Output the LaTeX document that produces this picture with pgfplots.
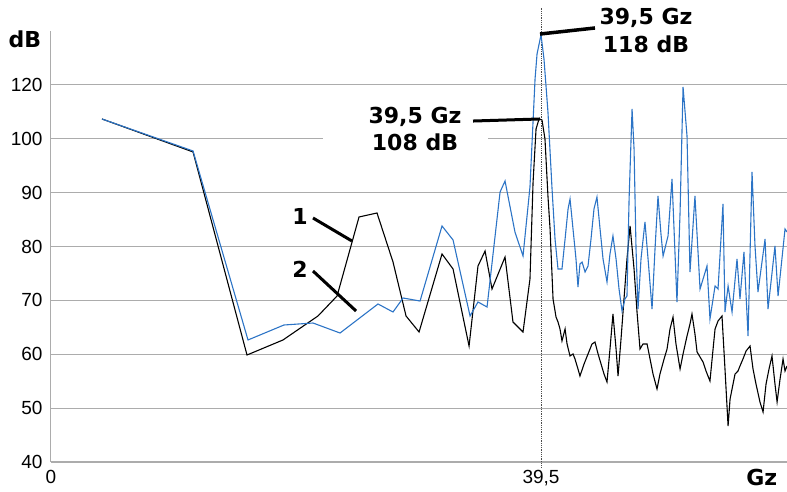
\documentclass[border=0pt]{standalone}
\usepackage{fontspec}
\setmainfont{Liberation Sans}
\newfontfamily\ann{DejaVu Sans}
\usepackage{pgfplots}
\pgfplotsset{compat=1.18}
\definecolor{sblue}{RGB}{44,116,198}
\begin{document}
\begin{tikzpicture}
\useasboundingbox (-51pt,-30pt) rectangle (736pt,462pt);
\begin{axis}[at={(0,0)}, anchor=south west, scale only axis,
  width=736pt, height=431pt,
  xmin=0, xmax=59.33, ymin=40, ymax=120,
  axis lines*=left,
  axis line style={draw=gray!65, line width=1pt},
  ytick={40,50,...,110}, yticklabels={40,50,60,70,80,90,100,120},
  xtick={0,39.5}, xticklabels={0,{39,5}},
  major tick length=0pt,
  ymajorgrids, grid style={gray!65, line width=1.1pt},
  tick label style={font=\fontsize{19}{19}\selectfont},
  yticklabel style={xshift=-5pt},
  xticklabel style={yshift=-5pt},
  /pgf/number format/assume math mode=true,
  clip=false]
\fill[white] (axis cs:21.93,97) rectangle (axis cs:35.23,105);
\fill[white] (axis cs:39.65,118.6) rectangle (axis cs:56.6,121);
\draw[densely dotted, gray!60!black, line width=0.8pt] (axis cs:39.5,39.0) -- (axis cs:39.5,124.5);
\addplot[black, line width=1.1pt] table {
x y
4.11 103.67
11.45 97.55
15.80 59.86
18.70 62.65
21.52 67.10
23.06 70.81
24.83 85.48
26.28 86.22
27.57 77.12
28.62 67.10
29.67 64.13
31.52 78.61
32.41 75.82
33.70 61.53
34.42 76.38
34.99 79.16
35.55 72.11
36.60 78.05
37.24 65.99
38.05 64.13
38.61 73.97
38.86 91.97
39.10 101.81
39.34 103.67
39.58 103.48
39.82 99.95
40.06 89.37
40.23 83.25
40.47 70.26
40.71 66.91
40.87 65.99
41.03 64.69
41.19 62.46
41.44 64.69
41.60 61.90
41.84 59.68
42.08 60.05
42.24 59.12
42.48 57.26
42.64 55.96
42.97 58.19
43.29 60.05
43.61 61.90
43.85 62.27
44.10 60.05
44.34 58.19
44.58 56.33
44.82 54.85
45.06 60.97
45.30 67.47
45.55 60.97
45.71 55.96
45.95 62.83
46.19 70.26
46.43 77.68
46.68 83.81
47.00 75.82
47.24 67.84
47.48 60.97
47.72 61.90
48.05 61.90
48.29 59.12
48.53 56.33
48.85 53.55
49.09 56.33
49.42 59.12
49.66 60.97
49.90 64.69
50.14 66.91
50.38 61.90
50.71 57.26
50.95 60.05
51.27 63.39
51.51 65.62
51.67 67.47
51.91 63.76
52.08 60.42
52.32 59.49
52.56 58.56
52.80 56.89
53.12 55.03
53.37 60.97
53.53 64.69
53.77 66.17
54.09 67.10
54.33 57.26
54.58 46.68
54.74 51.69
54.90 53.55
55.14 56.33
55.38 56.89
55.54 57.82
55.78 59.12
56.03 60.60
56.35 61.53
56.59 57.26
56.83 54.48
57.15 51.14
57.40 49.28
57.64 54.48
57.88 57.26
58.12 59.68
58.36 54.48
58.53 51.14
58.77 55.41
59.01 59.12
59.17 56.89
59.33 57.82
};
\addplot[sblue, line width=1.1pt] table {
x y
4.11 103.67
11.45 97.73
15.88 62.65
18.78 65.43
21.12 65.80
23.30 63.94
26.36 69.33
27.57 67.84
28.38 70.44
29.75 69.88
31.52 83.81
32.41 81.21
33.78 67.10
34.42 69.70
35.15 68.77
36.20 90.12
36.60 92.16
37.40 82.69
38.05 78.24
38.61 91.04
39.02 111.09
39.18 115.73
39.50 119.30
39.74 114.80
40.06 104.97
40.39 90.67
40.63 81.39
40.87 75.82
41.19 75.82
41.44 81.39
41.68 86.96
41.84 88.82
42.08 83.25
42.32 77.68
42.48 72.48
42.64 76.75
42.81 77.12
43.05 75.27
43.29 76.38
43.53 81.39
43.77 86.96
44.01 89.19
44.26 83.25
44.50 77.68
44.82 73.41
45.06 78.61
45.30 81.95
45.55 77.68
45.79 72.11
46.03 68.03
46.27 70.26
46.43 70.81
46.60 88.82
46.84 105.52
47.00 98.10
47.16 79.54
47.32 68.40
47.56 77.68
47.88 84.55
48.13 77.68
48.45 68.40
48.69 79.54
48.93 89.37
49.17 82.32
49.34 78.24
49.74 81.95
50.06 92.53
50.46 69.70
50.71 86.40
50.95 109.61
51.27 100.51
51.51 75.27
51.91 89.37
52.32 72.11
52.88 76.38
53.12 66.54
53.53 72.67
53.77 72.11
54.17 87.89
54.33 67.84
54.58 72.67
54.90 67.84
55.30 77.68
55.54 70.26
55.86 78.98
56.19 63.39
56.51 93.83
56.75 80.09
56.99 71.55
57.56 81.39
57.80 68.40
58.36 80.09
58.61 70.81
59.17 83.25
59.33 82.69
};
\draw[line width=3pt] (axis cs:34.02,103.29) -- (axis cs:39.42,103.67);
\draw[line width=3.5pt] (axis cs:39.42,119.44) -- (axis cs:43.85,120.56);
\draw[line width=3pt] (axis cs:21.12,85.29) -- (axis cs:24.26,81.02);
\draw[line width=3pt] (axis cs:21.12,75.45) -- (axis cs:24.59,68.03);
\node[font=\ann\bfseries\fontsize{22}{27.5}\selectfont, align=center] at (axis cs:29.34,101.81) {39,5 Gz\\108 dB};
\node[font=\ann\bfseries\fontsize{22}{27.5}\selectfont, align=center] at (axis cs:47.96,120.09) {39,5 Gz\\118 dB};
\node[font=\ann\bfseries\fontsize{22}{22}\selectfont] at (axis cs:20.07,85.48) {1};
\node[font=\ann\bfseries\fontsize{22}{22}\selectfont] at (axis cs:20.07,75.82) {2};
\node[font=\ann\bfseries\fontsize{22}{22}\selectfont] at (axis cs:-2.1,118.5) {dB};
\node[font=\ann\bfseries\fontsize{22}{22}\selectfont] at (axis cs:57.3,37.2) {Gz};
\end{axis}
\end{tikzpicture}
\end{document}
